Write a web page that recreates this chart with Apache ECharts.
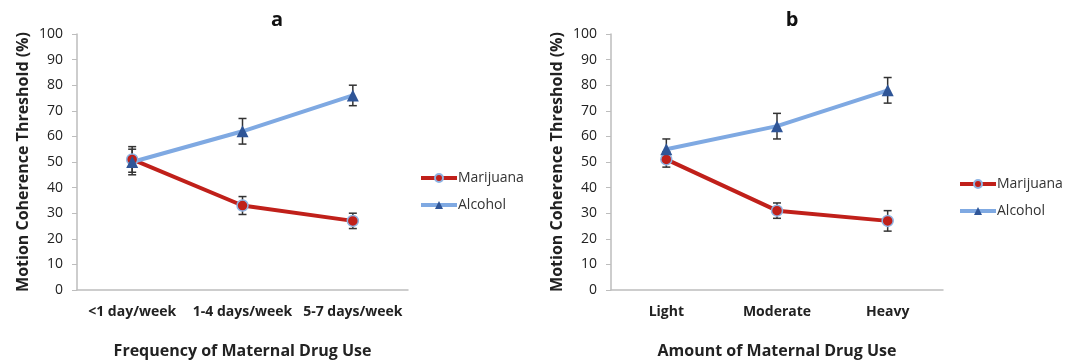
<!DOCTYPE html>
<html><head><meta charset="utf-8">
<script src="https://cdn.jsdelivr.net/npm/echarts@6/dist/echarts.min.js"></script>
<style>html,body{margin:0;padding:0;background:#fff}#c{width:1073px;height:364px}</style>
</head><body><div id="c"></div>
<script>
const catsA = ['<1 day/week', '1-4 days/week', '5-7 days/week'];
const catsB = ['Light', 'Moderate', 'Heavy'];
const marA = [51, 33, 27];
const marAErr = [5, 3.5, 3];
const alcA = [50, 62, 76];
const alcAErr = [5, 5, 4];
const marB = [51, 31, 27];
const marBErr = [3, 3, 4];
const alcB = [55, 64, 78];
const alcBErr = [4, 5, 5];
const yTicks = [0, 10, 20, 30, 40, 50, 60, 70, 80, 90, 100];

const FONT = '"Open Sans", Lato, sans-serif';
const RED = '#c0201a', BLUE = '#7fa9e2', DBLUE = '#2f5597', ERR = '#333';

function errData(vals, errs) { return vals.map((v, i) => [i, v - errs[i], v + errs[i]]); }
function errSeries(idx, vals, errs) {
  return {
    type: 'custom', xAxisIndex: idx, yAxisIndex: idx, z: 1, silent: true,
    data: errData(vals, errs),
    renderItem: function (params, api) {
      const lo = api.coord([api.value(0), api.value(1)]);
      const hi = api.coord([api.value(0), api.value(2)]);
      const w = 4;
      const st = { stroke: ERR, lineWidth: 1.5 };
      return { type: 'group', children: [
        { type: 'line', shape: { x1: lo[0], y1: lo[1], x2: hi[0], y2: hi[1] }, style: st },
        { type: 'line', shape: { x1: lo[0] - w, y1: lo[1], x2: lo[0] + w, y2: lo[1] }, style: st },
        { type: 'line', shape: { x1: hi[0] - w, y1: hi[1], x2: hi[0] + w, y2: hi[1] }, style: st }
      ]};
    }
  };
}
function lineSeries(idx, name, vals, kind) {
  const isM = kind === 'm';
  return {
    type: 'line', name: name, xAxisIndex: idx, yAxisIndex: idx, z: 3, data: vals,
    symbol: isM ? 'circle' : 'triangle', symbolSize: isM ? 11 : 12,
    lineStyle: { color: isM ? RED : BLUE, width: 4 },
    itemStyle: isM ? { color: RED, borderColor: '#8fb4e3', borderWidth: 1.5 } : { color: DBLUE, borderWidth: 0 },
    emphasis: { disabled: true }
  };
}
function xAx(idx, cats, name) {
  return {
    type: 'category', gridIndex: idx, data: cats, boundaryGap: true,
    axisLine: { lineStyle: { color: '#bdbdbd', width: 1.5 } }, axisTick: { show: false },
    axisLabel: { color: '#222', fontFamily: FONT, fontSize: 14, fontWeight: 'bold', margin: 15, interval: 0, hideOverlap: false },
    name: name, nameLocation: 'middle', nameGap: 53,
    nameTextStyle: { color: '#222', fontFamily: FONT, fontSize: 16, fontWeight: 'bold' }
  };
}
function yAx(idx) {
  return {
    type: 'value', gridIndex: idx, min: 0, max: 100, interval: 10,
    axisLine: { show: true, lineStyle: { color: '#bdbdbd', width: 1.5 } },
    axisTick: { show: true, length: 5, lineStyle: { color: '#bdbdbd' } },
    splitLine: { show: false },
    axisLabel: { color: '#222', fontFamily: FONT, fontSize: 14, margin: 14,
      formatter: v => yTicks.includes(v) ? String(v) : '' },
    name: 'Motion Coherence Threshold (%)', nameLocation: 'middle', nameGap: 46,
    nameTextStyle: { color: '#222', fontFamily: FONT, fontSize: 16, fontWeight: 'bold' }
  };
}
const legendBase = {
  orient: 'vertical', itemWidth: 36, itemHeight: 10, itemGap: 13,
  lineStyle: { width: 4 },
  textStyle: { color: '#333', fontFamily: FONT, fontSize: 14, padding: [0, 0, 0, -4] },
  selectedMode: false, data: ['Marijuana', 'Alcohol']
};
const chart = echarts.init(document.getElementById('c'));
chart.setOption({
  animation: false,
  title: [
    { text: 'a', left: 272, top: 5, textAlign: 'center', textStyle: { fontFamily: FONT, fontSize: 20, fontWeight: 'bold', color: '#111' } },
    { text: 'b', left: 787, top: 5, textAlign: 'center', textStyle: { fontFamily: FONT, fontSize: 20, fontWeight: 'bold', color: '#111' } }
  ],
  grid: [
    { left: 77, top: 34, width: 331, height: 258 },
    { left: 611, top: 34, width: 332, height: 258 }
  ],
  xAxis: [xAx(0, catsA, 'Frequency of Maternal Drug Use'), xAx(1, catsB, 'Amount of Maternal Drug Use')],
  yAxis: [yAx(0), yAx(1)],
  legend: [
    Object.assign({}, legendBase, { left: 414, top: 166 }),
    Object.assign({}, legendBase, { left: 953, top: 172 })
  ],
  series: [
    errSeries(0, marA, marAErr), errSeries(0, alcA, alcAErr),
    errSeries(1, marB, marBErr), errSeries(1, alcB, alcBErr),
    lineSeries(0, 'Marijuana', marA, 'm'), lineSeries(0, 'Alcohol', alcA, 'a'),
    lineSeries(1, 'Marijuana', marB, 'm'), lineSeries(1, 'Alcohol', alcB, 'a')
  ]
});
</script></body></html>
